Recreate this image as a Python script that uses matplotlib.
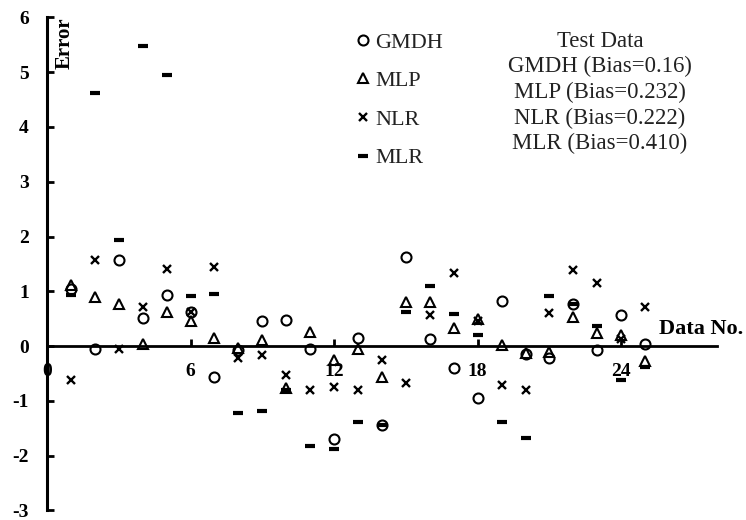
import numpy as np
import matplotlib
matplotlib.use("Agg")
import matplotlib.pyplot as plt

plt.rcParams['font.family'] = ['Liberation Serif', 'DejaVu Serif']
plt.rcParams['axes.unicode_minus'] = False

# test data errors
data_no = np.arange(1, 26)
gmdh = [1.05, -0.05, 1.58, 0.52, 0.94, 0.63, -0.57, -0.08, 0.46, 0.48, -0.05, -1.70, 0.15,
        -1.44, 1.62, 0.12, -0.40, -0.94, 0.82, -0.15, -0.21, 0.77, -0.08, 0.56, 0.03]
mlp = [1.12, 0.90, 0.77, 0.03, 0.63, 0.45, 0.14, -0.04, 0.11, -0.77, 0.26, -0.25, -0.06,
       -0.57, 0.81, 0.81, 0.33, 0.50, 0.02, -0.12, -0.10, 0.53, 0.23, 0.21, -0.28]
nlr = [-0.62, 1.58, -0.06, 0.72, 1.40, 0.62, 1.45, -0.22, -0.17, -0.53, -0.81, -0.75, -0.81,
       -0.25, -0.68, 0.57, 1.34, 0.45, -0.72, -0.80, 0.60, 1.38, 1.15, 0.12, 0.71]
mlr = [0.93, 4.62, 1.94, 5.47, 4.95, 0.92, 0.95, -1.22, -1.19, -0.80, -1.83, -1.88, -1.39,
       -1.44, 0.63, 1.09, 0.59, 0.21, -1.39, -1.68, 0.91, 0.77, 0.37, -0.62, -0.38]
bias = {"GMDH": "0.16", "MLP": "0.232", "NLR": "0.222", "MLR": "0.410"}

fig = plt.figure(figsize=(7.46, 5.2), dpi=100)
ax = fig.add_axes([0.063, 0.0185, 0.898, 0.948])

ax.plot(data_no, gmdh, 'o', ms=7.2, mfc='none', mec='black', mew=1.5, label='GMDH')
ax.plot(data_no, mlp, '^', ms=7.2, mfc='none', mec='black', mew=1.5, label='MLP')
ax.plot(data_no, nlr, 'x', ms=5.3, mec='black', mew=1.7, label='NLR')
ax.plot(data_no, mlr, '_', ms=6.5, mec='black', mew=3, label='MLR')

ax.set_xlim(0, 28)
ax.set_ylim(-3, 6)
ax.spines['top'].set_visible(False)
ax.spines['right'].set_visible(False)
ax.spines['bottom'].set_position(('data', 0))
ax.spines['left'].set_linewidth(2.2)
ax.spines['bottom'].set_linewidth(2.0)

ax.set_xticks([0, 6, 12, 18, 24])
ax.set_yticks(range(-3, 7))
ax.tick_params(axis='y', direction='in', length=5, width=2, pad=13, labelsize=14)
ax.tick_params(axis='x', direction='in', length=5, width=2, pad=12, labelsize=14)
for lb in ax.get_xticklabels() + ax.get_yticklabels():
    lb.set_fontweight('bold')

ax.text(0.75, 6.0, 'Error', rotation=90, ha='center', va='top', fontsize=15, fontweight='bold')
ax.text(29.1, 0.31, 'Data No.', ha='right', va='center', fontsize=16, fontweight='bold',
        clip_on=False)

ax.legend(loc='upper left', bbox_to_anchor=(343 / 746, 1 - 21 / 520),
          bbox_transform=fig.transFigure, frameon=False, fontsize=16,
          handlelength=0.8, handletextpad=0.15, labelspacing=0.81, borderpad=0,
          labelcolor='#222222')

txt = "Test Data\n" + "\n".join(f"{k} (Bias={v})" for k, v in bias.items())
fig.text(600 / 746, 1 - 31 / 520, txt, ha='center', va='top', fontsize=16.4,
         linespacing=1.27, color='#222222', multialignment='center')

fig.savefig('out.png', dpi=100)
